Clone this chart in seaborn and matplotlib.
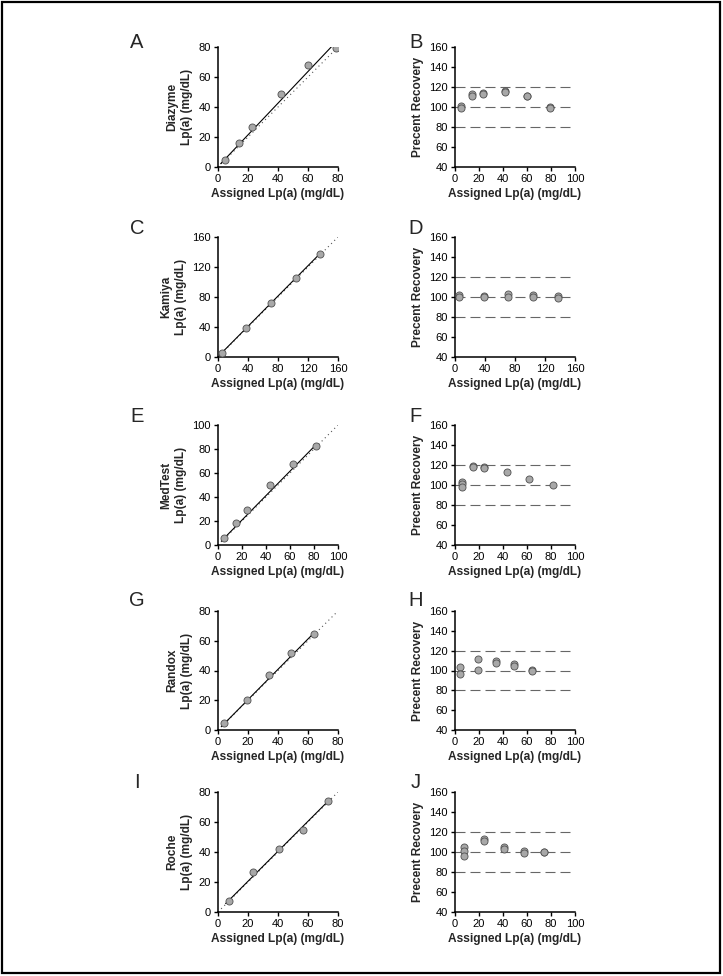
import numpy as np
import pandas as pd
import matplotlib
matplotlib.use("Agg")
import matplotlib.pyplot as plt
from matplotlib.patches import Rectangle
import seaborn as sns

# Method comparison panels (left column)
methods = ["Diazyme", "Kamiya", "MedTest", "Randox", "Roche"]
letters_left = ["A", "C", "E", "G", "I"]
letters_right = ["B", "D", "F", "H", "J"]

diazyme_x = [4.7, 13.8, 22.9, 41.8, 60.0, 78.4]
diazyme_y = [4.7, 15.7, 26.7, 48.7, 67.7, 79.3]
kamiya_x = [5.3, 37.8, 71.1, 104.0, 136.4]
kamiya_y = [6.0, 39.1, 72.4, 106.0, 137.8]
medtest_x = [5.3, 14.7, 24.2, 43.0, 62.2, 81.4]
medtest_y = [6.1, 18.6, 29.2, 49.7, 67.2, 82.2]
randox_x = [4.0, 19.1, 34.2, 48.9, 64.0]
randox_y = [4.4, 20.4, 37.1, 52.0, 64.4]
roche_x = [7.1, 23.6, 40.4, 56.9, 73.6]
roche_y = [7.6, 26.7, 42.2, 54.7, 74.0]

# regression line: slope, intercept, x start, x end
fit_slope = [1.056, 1.01, 1.018, 1.02, 1.0]
fit_intercept = [0.3, 0.5, 0.45, 0.0, 0.5]
fit_x0 = [1.8, 2.0, 2.8, 2.2, 5.1]
fit_x1 = [76.0, 137.0, 81.4, 64.0, 74.4]
left_max = [80, 160, 100, 80, 80]
left_step = [20, 40, 20, 20, 20]

# Percent recovery panels (right column)
diazyme_rx = [5, 5, 13.9, 13.9, 23, 23, 42, 42, 60, 60, 79, 79]
diazyme_ry = [101, 99, 112.7, 111, 114.3, 113, 116, 115, 111, 111, 100.5, 99.5]
kamiya_rx = [5.8, 5.8, 39, 39, 71, 71, 104.4, 104.4, 137, 137]
kamiya_ry = [102, 100.5, 101, 100, 103, 99.7, 102, 100, 100.7, 99.3]
medtest_rx = [5.6, 5.6, 5.6, 15, 15, 24.5, 24.5, 43.6, 62, 81.4]
medtest_ry = [102.7, 100.7, 98, 119.3, 118, 117.7, 117, 112.7, 106.3, 100]
randox_rx = [4.2, 4.2, 19.2, 19.2, 34.2, 34.2, 49, 49, 64, 64]
randox_ry = [104, 96.7, 111.3, 101, 109.7, 107.7, 106.3, 104.7, 100.7, 99.3]
roche_rx = [7.5, 7.5, 7.5, 24.2, 24.2, 40.8, 40.8, 57.2, 57.2, 73.9, 73.9]
roche_ry = [104.7, 100.7, 96.3, 113, 110.7, 105.3, 103, 101, 99.3, 100.3, 99.7]
right_max = [100, 160, 100, 100, 100]
right_step = [20, 40, 20, 20, 20]
limits = [80, 100, 120]

left_data = [(diazyme_x, diazyme_y), (kamiya_x, kamiya_y), (medtest_x, medtest_y),
             (randox_x, randox_y), (roche_x, roche_y)]
right_data = [(diazyme_rx, diazyme_ry), (kamiya_rx, kamiya_ry), (medtest_rx, medtest_ry),
              (randox_rx, randox_ry), (roche_rx, roche_ry)]

sns.set_style("ticks")
plt.rcParams['font.family'] = ['Liberation Sans', 'DejaVu Sans']
plt.rcParams['xtick.major.pad'] = 2
plt.rcParams['ytick.major.pad'] = 2

W, H = 723, 976
fig = plt.figure(figsize=(W / 100, H / 100), dpi=100)

rows = [(47, 167), (237, 357), (425, 545), (611, 730), (792, 912)]
left_cols = (218, 338)
right_cols = (455, 575)
letter_y = [43, 229, 417, 601, 782]

marker_kw = dict(s=26, color="#a8a8a8", edgecolor="#505050", linewidth=0.6, zorder=3)
tick_fs = 8
label_fs = 8.6


def style_axes(ax):
    for s in ["top", "right"]:
        ax.spines[s].set_visible(False)
    for s in ["left", "bottom"]:
        ax.spines[s].set_color("black")
        ax.spines[s].set_linewidth(1.1)
    ax.tick_params(colors="black", labelsize=tick_fs, length=3, width=1)


for i in range(5):
    top, bot = rows[i]
    # left column
    ax = fig.add_axes([left_cols[0] / W, 1 - bot / H, (left_cols[1] - left_cols[0]) / W, (bot - top) / H])
    x, y = left_data[i]
    m = left_max[i]
    ax.plot([0, m], [0, m], color="#555555", lw=0.8, ls=(0, (1, 3)), zorder=1)
    fx = np.array([fit_x0[i], fit_x1[i]])
    ax.plot(fx, fit_slope[i] * fx + fit_intercept[i], color="black", lw=0.8, zorder=2)
    df = pd.DataFrame({"x": x, "y": y})
    sns.scatterplot(data=df, x="x", y="y", ax=ax, **marker_kw)
    ax.set_xlim(0, m)
    ax.set_ylim(0, m)
    ticks = np.arange(0, m + 1, left_step[i])
    ax.set_xticks(ticks)
    ax.set_yticks(ticks)
    ax.set_xlabel("Assigned Lp(a) (mg/dL)", fontsize=label_fs, fontweight="bold", labelpad=3)
    ax.set_ylabel(methods[i] + "\nLp(a) (mg/dL)", fontsize=label_fs, fontweight="bold",
                  labelpad=4, linespacing=1.3)
    style_axes(ax)
    fig.text(137 / W, 1 - letter_y[i] / H, letters_left[i], fontsize=14.5, ha="center", va="center")

    # right column
    ax = fig.add_axes([right_cols[0] / W, 1 - bot / H, (right_cols[1] - right_cols[0]) / W, (bot - top) / H])
    for lim in limits:
        ax.axhline(lim, color="#666666", lw=0.8, dashes=[9, 4.5], zorder=1)
    rx, ry = right_data[i]
    df = pd.DataFrame({"x": rx, "y": ry})
    sns.scatterplot(data=df, x="x", y="y", ax=ax, **marker_kw)
    rm = right_max[i]
    ax.set_xlim(0, rm)
    ax.set_ylim(40, 160)
    ax.set_xticks(np.arange(0, rm + 1, right_step[i]))
    ax.set_yticks(np.arange(40, 161, 20))
    ax.set_xlabel("Assigned Lp(a) (mg/dL)", fontsize=label_fs, fontweight="bold", labelpad=3)
    ax.set_ylabel("Precent Recovery", fontsize=label_fs, fontweight="bold", labelpad=4)
    style_axes(ax)
    fig.text(416 / W, 1 - letter_y[i] / H, letters_right[i], fontsize=14.5, ha="center", va="center")

# frame around the figure
fig.patches.append(Rectangle((1.5 / W, 3 / H), (W - 4.5) / W, (H - 5) / H, transform=fig.transFigure,
                             fill=False, edgecolor="black", lw=1.6))

fig.savefig("out.png", dpi=100, facecolor="white")
